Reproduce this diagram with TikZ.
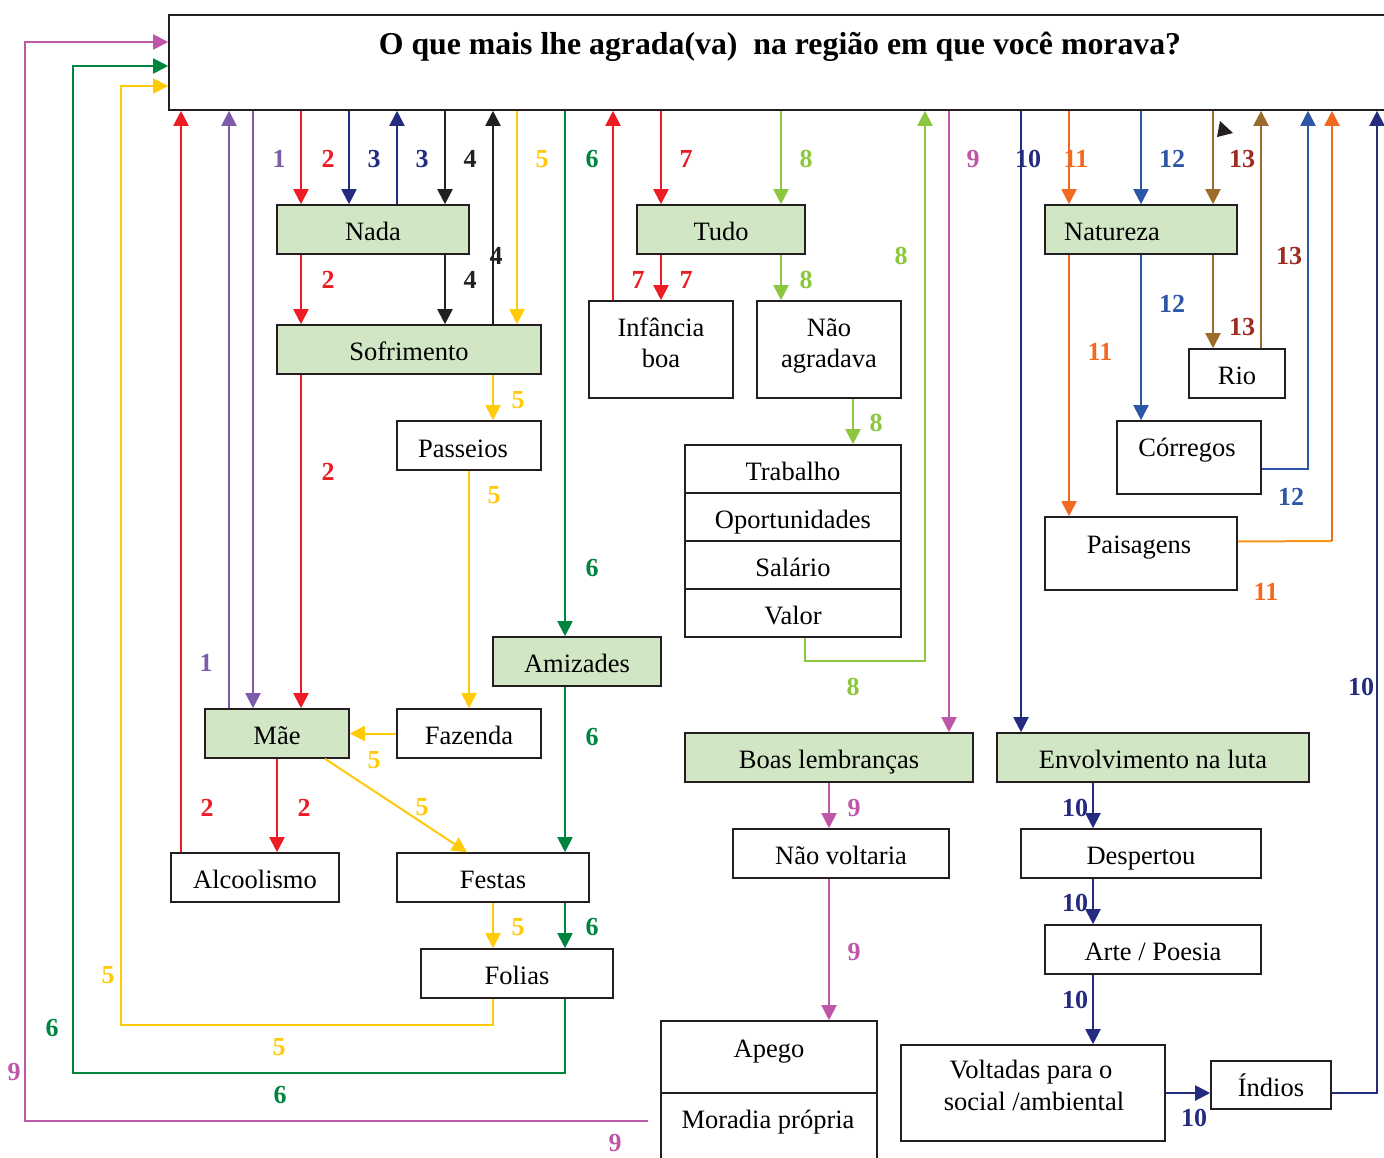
\documentclass[tikz,border=0pt]{standalone}
\usepackage{fontspec}
\setmainfont{Liberation Serif}
\usetikzlibrary{arrows.meta,calc}

\definecolor{boxline}{HTML}{231F20}
\definecolor{boxgreen}{HTML}{D1E6C5}
\definecolor{cpurple}{HTML}{7E5AAB}
\definecolor{cred}{HTML}{ED1C24}
\definecolor{cnavy}{HTML}{232C7E}
\definecolor{cblack}{HTML}{231F20}
\definecolor{cyellow}{HTML}{FFCB08}
\definecolor{cgreen}{HTML}{00853F}
\definecolor{clime}{HTML}{8DC63F}
\definecolor{cmagenta}{HTML}{BF57A8}
\definecolor{corange}{HTML}{F26A21}
\definecolor{clightorange}{HTML}{F7941D}
\definecolor{cblue}{HTML}{2E56A6}
\definecolor{cbrown}{HTML}{9A6B2B}
\definecolor{cdarkred}{HTML}{9E2B20}

\newcommand\bodyfont{\fontsize{26.5}{30}\selectfont}
\newcommand\titlefont{\bfseries\fontsize{31.8}{36}\selectfont}
\newcommand\numfont{\bfseries\fontsize{26}{30}\selectfont}

% box from (x1,y1) to (x2,y2): name, x1, y1, x2, y2, style, text
\newcommand\mkbox[7]{%
  \node[#6, minimum width={#4-#2}, minimum height={#5-#3}] (#1)
    at ({(#2+#4)/2},{(#3+#5)/2}) {#7};}

\begin{document}
\begin{tikzpicture}[x=1pt,y=-1pt,
  box/.style={draw=boxline, line width=1.6pt, fill=white, inner sep=0pt,
    text height=22pt, text depth=0pt, font=\bodyfont},
  gbox/.style={box, fill=boxgreen},
  txt/.style={inner sep=0pt, anchor=base, font=\bodyfont},
  wire/.style={line width=2pt},
  arr/.style={wire, -{Triangle[width=15pt,length=15pt]}},
  num/.style={inner sep=0pt, font=\numfont}]

\useasboundingbox (0,0) rectangle (1384,1158);
\clip (0,0) rectangle (1384,1158);
\fill[white] (0,0) rectangle (1384,1158);

% ---- question box
\mkbox{T}{169}{15}{1400}{110}{box}{}
\node[anchor=base, inner sep=0pt, font=\titlefont] (ttl) at (780,55)
  {O que mais lhe agrada(va)~ na região em que você morava?};

% ---- answer boxes
\mkbox{nada}{277}{205}{469}{254}{gbox}{Nada}
\mkbox{sofr}{277}{325}{541}{374}{gbox}{Sofrimento}
\mkbox{pass}{397}{421}{541}{470}{box}{}
\node[txt] (tpass) at (463,457) {Passeios};
\mkbox{amiz}{493}{637}{661}{686}{gbox}{Amizades}
\mkbox{mae}{205}{709}{349}{758}{gbox}{Mãe}
\mkbox{faz}{397}{709}{541}{758}{box}{Fazenda}
\mkbox{alco}{171}{853}{339}{902}{box}{Alcoolismo}
\mkbox{fest}{397}{853}{589}{902}{box}{Festas}
\mkbox{fol}{421}{949}{613}{998}{box}{Folias}
\mkbox{tudo}{637}{205}{805}{254}{gbox}{Tudo}
\mkbox{inf}{589}{301}{733}{398}{box}{}
\node[txt] (tinf1) at (661,337) {Infância};
\node[txt] (tinf2) at (661,367) {boa};
\mkbox{naoa}{757}{301}{901}{398}{box}{}
\node[txt] (tnaoa1) at (829,337) {Não};
\node[txt] (tnaoa2) at (829,367) {agradava};
\mkbox{trab}{685}{445}{901}{493}{box}{Trabalho}
\mkbox{oport}{685}{493}{901}{541}{box}{Oportunidades}
\mkbox{sal}{685}{541}{901}{589}{box}{Salário}
\mkbox{valor}{685}{589}{901}{637}{box}{Valor}
\mkbox{boas}{685}{733}{973}{782}{gbox}{Boas lembranças}
\mkbox{env}{997}{733}{1309}{782}{gbox}{Envolvimento na luta}
\mkbox{nat}{1045}{205}{1237}{254}{gbox}{}
\node[txt] (tnat) at (1112,241) {Natureza};
\mkbox{rio}{1189}{349}{1285}{398}{box}{Rio}
\mkbox{corr}{1117}{421}{1261}{494}{box}{}
\node[txt] (tcorr) at (1187,456) {Córregos};
\mkbox{pais}{1045}{517}{1237}{590}{box}{}
\node[txt] (tpais) at (1139,553) {Paisagens};
\mkbox{naov}{733}{829}{949}{878}{box}{Não voltaria}
\mkbox{desp}{1021}{829}{1261}{878}{box}{Despertou}
\mkbox{arte}{1045}{925}{1261}{974}{box}{Arte / Poesia}
\mkbox{apego}{661}{1021}{877}{1093}{box}{}
\node[txt] (tapego) at (769,1057) {Apego};
\mkbox{mora}{661}{1093}{877}{1175}{box}{}
\node[txt] (tmora) at (768,1128) {Moradia própria};
\mkbox{volt}{901}{1045}{1165}{1141}{box}{}
\node[txt] (tvolt1) at (1031,1078) {Voltadas para o};
\node[txt] (tvolt2) at (1034,1110) {social /ambiental};
\mkbox{ind}{1211}{1061}{1331}{1109}{box}{Índios}

% ---- path numbers
\foreach \p [count=\i] in {(279,159),(206,663)}
  \node[num,cpurple] (na\i) at \p {1};
\foreach \p [count=\i] in {(328,159),(328,280),(328,472),(304,808),(207,808)}
  \node[num,cred] (nb\i) at \p {2};
\foreach \p [count=\i] in {(374,159),(422,159)}
  \node[num,cnavy] (nc\i) at \p {3};
\foreach \p [count=\i] in {(470,159),(470,280),(496,256)}
  \node[num,cblack] (nd\i) at \p {4};
\foreach \p [count=\i] in {(542,159),(518,400),(494,495),(374,760),(422,807),(518,927),(108,975),(279,1047)}
  \node[num,cyellow] (ne\i) at \p {5};
\foreach \p [count=\i] in {(592,159),(592,568),(592,737),(592,927),(52,1028),(280,1095)}
  \node[num,cgreen] (nf\i) at \p {6};
\foreach \p [count=\i] in {(686,159),(638,280),(686,280)}
  \node[num,cred] (ng\i) at \p {7};
\foreach \p [count=\i] in {(806,159),(806,280),(876,423),(901,256),(853,687)}
  \node[num,clime] (nh\i) at \p {8};
\foreach \p [count=\i] in {(973,159),(854,808),(854,952),(14,1072),(615,1143)}
  \node[num,cmagenta] (ni\i) at \p {9};
\foreach \p [count=\i] in {(1028,159),(1075,808),(1075,903),(1075,1000),(1194,1118),(1361,687)}
  \node[num,cnavy] (nj\i) at \p {10};
\foreach \p [count=\i] in {(1076,159),(1100,352),(1266,592)}
  \node[num,corange] (nk\i) at \p {11};
\foreach \p [count=\i] in {(1172,159),(1172,304),(1291,497)}
  \node[num,cblue] (nl\i) at \p {12};
\foreach \p [count=\i] in {(1242,159),(1242,327),(1289,256)}
  \node[num,cdarkred] (nm\i) at \p {13};

% ---- path 1
\draw[arr,cpurple] (253,0 |- T.south) -- (253,0 |- mae.north);
\draw[arr,cpurple] (229,0 |- mae.north) -- (229,0 |- T.south);
% ---- path 2
\draw[arr,cred] (301,0 |- T.south) -- (301,0 |- nada.north);
\draw[arr,cred] (301,0 |- nada.south) -- (301,0 |- sofr.north);
\draw[arr,cred] (301,0 |- sofr.south) -- (301,0 |- mae.north);
\draw[arr,cred] (277,0 |- mae.south) -- (277,0 |- alco.north);
\draw[arr,cred] (181,0 |- alco.north) -- (181,0 |- T.south);
% ---- path 3
\draw[arr,cnavy] (349,0 |- T.south) -- (349,0 |- nada.north);
\draw[arr,cnavy] (397,0 |- nada.north) -- (397,0 |- T.south);
% ---- path 4
\draw[arr,cblack] (445,0 |- T.south) -- (445,0 |- nada.north);
\draw[arr,cblack] (445,0 |- nada.south) -- (445,0 |- sofr.north);
\draw[arr,cblack] (493,0 |- sofr.north) -- (493,0 |- T.south);
% ---- path 5
\draw[arr,cyellow] (517,0 |- T.south) -- (517,0 |- sofr.north);
\draw[arr,cyellow] (493,0 |- sofr.south) -- (493,0 |- pass.north);
\draw[arr,cyellow] (469,0 |- pass.south) -- (469,0 |- faz.north);
\draw[arr,cyellow] (faz.west) -- (mae.east);
\draw[arr,cyellow] (325,0 |- mae.south) -- (467,0 |- fest.north);
\draw[arr,cyellow] (493,0 |- fest.south) -- (493,0 |- fol.north);
\draw[arr,cyellow] (493,0 |- fol.south) -- (493,1025) -- (121,1025) -- (121,86) -- (T.west |- 0,86);
% ---- path 6
\draw[arr,cgreen] (565,0 |- T.south) -- (565,0 |- amiz.north);
\draw[arr,cgreen] (565,0 |- amiz.south) -- (565,0 |- fest.north);
\draw[arr,cgreen] (565,0 |- fest.south) -- (565,0 |- fol.north);
\draw[arr,cgreen] (565,0 |- fol.south) -- (565,1073) -- (73,1073) -- (73,66) -- (T.west |- 0,66);
% ---- path 7
\draw[arr,cred] (661,0 |- T.south) -- (661,0 |- tudo.north);
\draw[arr,cred] (661,0 |- tudo.south) -- (661,0 |- inf.north);
\draw[arr,cred] (613,0 |- inf.north) -- (613,0 |- T.south);
% ---- path 8
\draw[arr,clime] (781,0 |- T.south) -- (781,0 |- tudo.north);
\draw[arr,clime] (781,0 |- tudo.south) -- (781,0 |- naoa.north);
\draw[arr,clime] (853,0 |- naoa.south) -- (853,0 |- trab.north);
\draw[arr,clime] (805,0 |- valor.south) -- (805,661) -- (925,661) -- (925,0 |- T.south);
% ---- path 9
\draw[arr,cmagenta] (949,0 |- T.south) -- (949,0 |- boas.north);
\draw[arr,cmagenta] (829,0 |- boas.south) -- (829,0 |- naov.north);
\draw[arr,cmagenta] (829,0 |- naov.south) -- (829,0 |- apego.north);
\draw[arr,cmagenta] ($(mora.west |- 0,1121)+(-12,0)$) -- (25,1121) -- (25,42) -- (T.west |- 0,42);
% ---- path 10
\draw[arr,cnavy] (1021,0 |- T.south) -- (1021,0 |- env.north);
\draw[arr,cnavy] (1093,0 |- env.south) -- (1093,0 |- desp.north);
\draw[arr,cnavy] (1093,0 |- desp.south) -- (1093,0 |- arte.north);
\draw[arr,cnavy] (1093,0 |- arte.south) -- (1093,0 |- volt.north);
\draw[arr,cnavy] (volt.east) -- (volt.east -| ind.west);
\draw[arr,cnavy] (volt.east -| ind.east) -- (1377,1093) -- (1377,0 |- T.south);
% ---- path 11
\draw[arr,corange] (1069,0 |- T.south) -- (1069,0 |- nat.north);
\draw[arr,corange] (1069,0 |- nat.south) -- (1069,0 |- pais.north);
\draw[wire,clightorange] ($(pais.east)+(0,-12)$) -- (1332,541);
\draw[arr,corange] (1332,541) -- (1332,0 |- T.south);
% ---- path 12
\draw[arr,cblue] (1141,0 |- T.south) -- (1141,0 |- nat.north);
\draw[arr,cblue] (1141,0 |- nat.south) -- (1141,0 |- corr.north);
\draw[arr,cblue] ($(corr.east)+(0,11.5)$) -- (1308,469) -- (1308,0 |- T.south);
% ---- path 13
\draw[arr,cbrown] (1213,0 |- T.south) -- (1213,0 |- nat.north);
\draw[arr,cbrown] (1213,0 |- nat.south) -- (1213,0 |- rio.north);
\draw[arr,cbrown] (1261,0 |- rio.north) -- (1261,0 |- T.south);

% loose arrow tip under the question box
\fill[cblack] (1220,121) -- (1233,133) -- (1217,137) -- cycle;
\end{tikzpicture}
\end{document}
